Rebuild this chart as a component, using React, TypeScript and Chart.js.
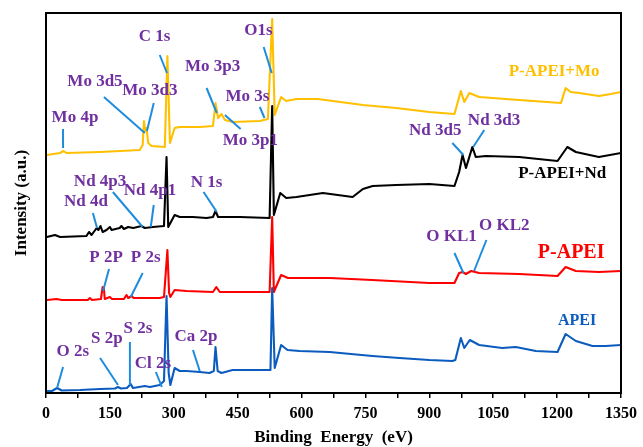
import React, { useEffect, useRef } from 'react';
import { Chart, registerables } from 'chart.js';

Chart.register(...registerables);

// ---- Spectra (binding energy in eV, intensity in arbitrary stacked units) ----
const apeiEnergy = [0, 14, 26, 37, 80, 127, 162, 169, 176, 190, 199, 204, 232, 244, 267, 277, 283, 288, 292, 302, 314, 330, 361, 384, 394, 398, 403, 412, 438, 478, 518, 527, 531, 537, 552, 567, 595, 666, 766, 830, 900, 954, 961, 974, 982, 995, 1017, 1071, 1103, 1150, 1201, 1220, 1244, 1283, 1314, 1350];
const apeiIntensity = [2, 2, 5, 2.5, 3, 4, 4.5, 6, 4.5, 5, 9, 5, 7, 6, 8, 12, 97, 20, 8, 25, 22, 22, 21, 20, 22, 46, 22, 20, 23, 23, 23, 23, 105, 25, 48, 43, 42, 41, 37, 35, 33, 32, 33, 55, 45, 53, 48, 45, 46, 42, 41, 59, 52, 47, 47, 48];

const papeiEnergy = [2, 25, 37, 98, 103, 108, 129, 133, 136, 138, 150, 155, 183, 189, 193, 201, 206, 267, 277, 285, 289, 292, 302, 330, 392, 400, 408, 525, 531, 535, 552, 568, 666, 766, 900, 959, 970, 978, 986, 998, 1017, 1111, 1201, 1220, 1244, 1298, 1350];
const papeiIntensity = [93, 94, 93, 93, 95, 93, 94, 106, 104, 94, 96, 94, 94, 98, 95, 97, 95, 95, 96, 143, 100, 96, 103, 102, 101, 106, 101, 101, 176, 101, 118, 115, 115, 113, 110, 110, 120, 121, 119, 122, 120, 119, 117, 126, 122, 121, 122];

const ndEnergy = [2, 21, 33, 95, 101, 107, 119, 123, 128, 133, 142, 150, 154, 173, 177, 183, 193, 205, 224, 232, 251, 277, 283, 287, 302, 314, 345, 377, 392, 398, 404, 455, 525, 531, 535, 550, 564, 588, 650, 720, 744, 767, 822, 900, 959, 970, 978, 986, 1001, 1009, 1033, 1111, 1201, 1224, 1244, 1298, 1350];
const ndIntensity = [156, 158, 156, 157, 161, 158, 165, 163, 167, 161, 163, 166, 163, 165, 167, 164, 166, 165, 167, 165, 166, 167, 236, 166, 178, 176, 176, 175, 176, 182, 176, 176, 175, 287, 178, 200, 195, 196, 200, 196, 204, 207, 208, 209, 207, 221, 238, 225, 246, 236, 237, 236, 232, 246, 241, 236, 240];

const moEnergy = [2, 33, 41, 48, 127, 220, 227, 230, 233, 236, 240, 248, 279, 285, 291, 302, 314, 361, 392, 398, 404, 412, 420, 439, 502, 521, 531, 537, 552, 564, 588, 638, 744, 822, 900, 959, 974, 982, 994, 1017, 1111, 1209, 1220, 1232, 1252, 1298, 1326, 1350];
const moIntensity = [238, 240, 242, 240, 241, 243, 248, 272, 262, 265, 250, 247, 246, 337, 250, 265, 266, 266, 267, 290, 275, 279, 273, 271, 272, 274, 374, 278, 296, 292, 294, 294, 288, 285, 281, 279, 302, 291, 300, 296, 293, 290, 305, 301, 300, 297, 299, 301];

const seriesNames = ['APEI', 'P-APEI', 'P-APEI+Nd', 'P-APEI+Mo'];
const seriesColors = ['#0B5CBE', '#FF0000', '#000000', '#FFC000'];

// ---- Axis ----
const xTickValues = [0, 75, 150, 225, 300, 375, 450, 525, 600, 675, 750, 825, 900, 975, 1050, 1125, 1200, 1275, 1350];
const xTickLabels = ['0', '', '150', '', '300', '', '450', '', '600', '', '750', '', '900', '', '1050', '', '1200', '', '1350'];

// ---- Peak annotations (data coordinates) ----
const peakText = ['C 1s', 'O1s', 'Mo 3d5', 'Mo 3d3', 'Mo 4p', 'Mo 3p3', 'Mo 3s', 'Mo 3p1', 'Nd 4p3', 'Nd 4p1', 'Nd 4d', 'N 1s', 'Nd 3d5', 'Nd 3d3', 'O KL1', 'O KL2', 'P 2P', 'P 2s', 'O 2s', 'S 2p', 'S 2s', 'Cl 2s', 'Ca 2p'];
const peakTextE = [255, 499, 115, 244, 68, 391, 473, 480, 127, 244, 94, 377, 914, 1052, 952, 1076, 141, 234, 63, 143, 216, 251, 352];
const peakTextI = [356, 362, 311, 302, 275, 326, 296, 252, 211, 202, 191, 210, 262, 272, 156, 167, 135, 135, 41, 54, 64, 29, 56];
const pointerStartE = [267, 511, 136, 253, 40, 377, 502, 420, 157, 253, 110, 370, 954, 1029, 959, 1034, 148, 227, 40, 127, 197, 258, 345];
const pointerStartI = [338, 346, 296, 290, 264, 305, 286, 278, 201, 188, 180, 201, 250, 263, 140, 153, 124, 120, 26, 35, 51, 21, 43];
const pointerEndE = [284, 530, 232, 237, 40, 401, 513, 457, 227, 246, 120, 401, 980, 1003, 980, 1005, 134, 199, 26, 169, 197, 272, 361];
const pointerEndI = [320, 320, 260, 262, 245, 280, 275, 264, 166, 166, 165, 181, 238, 246, 120, 122, 102, 96, 5, 8, 8, 6, 22];

// ---- Series name labels ----
const nameLabelE = [1247, 1233, 1212, 1193];
const nameLabelI = [72, 140, 219, 321];
const nameLabelSize = [16, 20, 17, 17];

const FONT = '"Liberation Serif", "Times New Roman", serif';

const toPoints = (xs: number[], ys: number[]) => xs.map((x, i) => ({ x, y: ys[i] }));

const annotationPlugin = {
  id: 'xpsAnnotations',
  afterDatasetsDraw(chart: any) {
    const { ctx } = chart;
    const xs = chart.scales.x;
    const ys = chart.scales.y;
    ctx.save();
    ctx.strokeStyle = '#1E8CDC';
    ctx.lineWidth = 2;
    ctx.lineCap = 'butt';
    for (let i = 0; i < pointerStartE.length; i++) {
      ctx.beginPath();
      ctx.moveTo(xs.getPixelForValue(pointerStartE[i]), ys.getPixelForValue(pointerStartI[i]));
      ctx.lineTo(xs.getPixelForValue(pointerEndE[i]), ys.getPixelForValue(pointerEndI[i]));
      ctx.stroke();
    }
    ctx.textAlign = 'center';
    ctx.textBaseline = 'middle';
    ctx.fillStyle = '#7030A0';
    ctx.font = `bold 17px ${FONT}`;
    for (let i = 0; i < peakText.length; i++) {
      ctx.fillText(peakText[i], xs.getPixelForValue(peakTextE[i]), ys.getPixelForValue(peakTextI[i]));
    }
    for (let i = 0; i < seriesNames.length; i++) {
      ctx.fillStyle = seriesColors[i];
      ctx.font = `bold ${nameLabelSize[i]}px ${FONT}`;
      ctx.fillText(seriesNames[i], xs.getPixelForValue(nameLabelE[i]), ys.getPixelForValue(nameLabelI[i]));
    }
    ctx.restore();
  },
  afterDraw(chart: any) {
    const { ctx, chartArea } = chart;
    ctx.save();
    ctx.strokeStyle = '#000';
    ctx.lineWidth = 2;
    ctx.strokeRect(chartArea.left, chartArea.top, chartArea.right - chartArea.left, chartArea.bottom - chartArea.top);
    ctx.restore();
  },
};

export default function App() {
  const canvasRef = useRef<HTMLCanvasElement | null>(null);

  useEffect(() => {
    if (!canvasRef.current) return;
    const seriesE = [apeiEnergy, papeiEnergy, ndEnergy, moEnergy];
    const seriesI = [apeiIntensity, papeiIntensity, ndIntensity, moIntensity];
    const chart = new Chart(canvasRef.current, {
      type: 'line',
      data: {
        datasets: seriesNames.map((name, i) => ({
          label: name,
          data: toPoints(seriesE[i], seriesI[i]),
          borderColor: seriesColors[i],
          backgroundColor: seriesColors[i],
          borderWidth: 2.1,
          pointRadius: 0,
          tension: 0,
          fill: false,
          borderJoinStyle: 'round' as const,
        })),
      },
      options: {
        animation: false,
        responsive: true,
        maintainAspectRatio: false,
        layout: { padding: { top: 13, right: 21, left: 0, bottom: 0 } },
        plugins: { legend: { display: false }, tooltip: { enabled: false } },
        scales: {
          x: {
            type: 'linear',
            min: 0,
            max: 1350,
            afterFit: (s: any) => { s.height = 54; },
            afterBuildTicks: (s: any) => { s.ticks = xTickValues.map((v) => ({ value: v })); },
            border: { display: false },
            grid: { display: true, drawOnChartArea: false, drawTicks: true, tickLength: 5, color: '#000', lineWidth: 1.5 },
            ticks: {
              autoSkip: false,
              maxRotation: 0,
              padding: 6,
              color: '#000',
              font: { family: FONT, size: 16, weight: 'bold' },
              callback: (v: any) => xTickLabels[xTickValues.indexOf(Number(v))] ?? '',
            },
            title: {
              display: true,
              text: 'Binding  Energy  (eV)',
              color: '#000',
              font: { family: FONT, size: 17, weight: 'bold' },
              padding: { top: 0, bottom: -1 },
            },
          },
          y: {
            type: 'linear',
            min: 0,
            max: 380,
            afterFit: (s: any) => { s.width = 46; },
            border: { display: false },
            grid: { display: false },
            ticks: { display: false },
            title: {
              display: true,
              text: 'Intensity (a.u.)',
              color: '#000',
              font: { family: FONT, size: 17, weight: 'bold' },
              padding: { top: 11, bottom: 0 },
            },
          },
        },
      },
      plugins: [annotationPlugin],
    });
    return () => chart.destroy();
  }, []);

  return (
    <div style={{ position: 'fixed', left: 0, top: 0, width: 643, height: 447, background: '#fff' }}>
      <canvas ref={canvasRef} />
    </div>
  );
}
